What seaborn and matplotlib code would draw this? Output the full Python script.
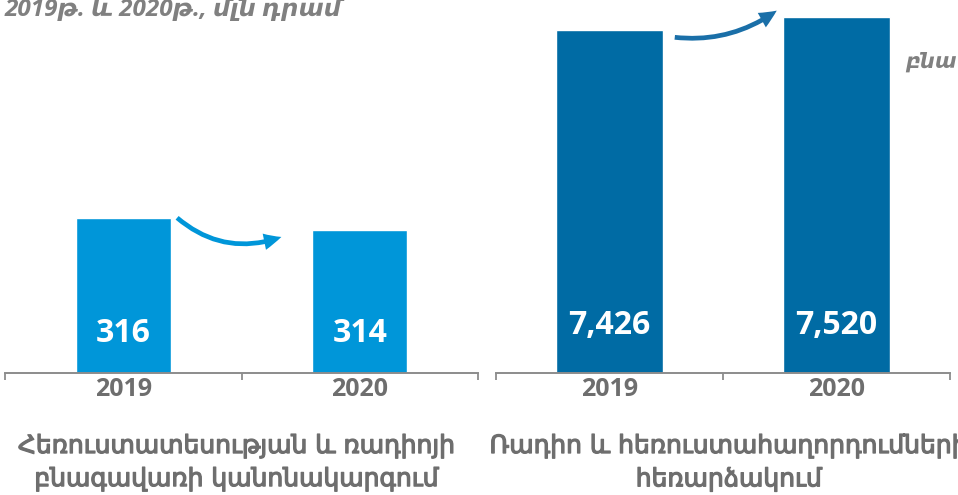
import matplotlib
matplotlib.use("Agg")
import matplotlib.pyplot as plt
import matplotlib.transforms as mtransforms
import matplotlib.patheffects as pe
from matplotlib.patches import FancyArrowPatch
import seaborn as sns
import pandas as pd

# Data
years = ["2019", "2020"]
regulation_values = [316, 314]
broadcast_values = [7426, 7520]
regulation_title = "Հեռուստատեսության և ռադիոյի\nբնագավառի կանոնակարգում"
broadcast_title = "Ռադիո և հեռուստահաղորդումների\nհեռարձակում"
heading = "2019թ. և 2020թ., մլն դրամ"
side_note = "բնա"

LIGHT_BLUE = "#0096D9"
DARK_BLUE = "#006BA4"
TEXT_GRAY = "#6E6E6E"
LINE_GRAY = "#8C8C8C"

sns.set_theme(style="white")
plt.rcParams["font.family"] = ["Open Sans", "DejaVu Sans"]

W, H = 958, 495
fig = plt.figure(figsize=(W / 100, H / 100), dpi=100)


def px_box(x0, x1, ytop, ybot):
    return [x0 / W, 1 - ybot / H, (x1 - x0) / W, (ybot - ytop) / H]


def panel(ax, values, color, width, ylim, label_y, title, title_x):
    df = pd.DataFrame({"year": years, "value": values})
    sns.barplot(data=df, x="year", y="value", color=color, saturation=1,
                width=width, ax=ax, errorbar=None)
    ax.set_xlim(-0.5, 1.5)
    ax.set_ylim(*ylim)
    for side in ["top", "right", "left"]:
        ax.spines[side].set_visible(False)
    ax.spines["bottom"].set_color(LINE_GRAY)
    ax.spines["bottom"].set_linewidth(1.4)
    ax.set_xticks([-0.5, 0.5, 1.5])
    ax.set_xticklabels([])
    ax.tick_params(axis="x", length=5, width=1.3, color=LINE_GRAY,
                   direction="out", bottom=True)
    ax.set_yticks([])
    ax.set_xlabel("")
    ax.set_ylabel("")
    trans = mtransforms.blended_transform_factory(ax.transData, ax.transAxes)
    for i, (yr, v) in enumerate(zip(years, values)):
        ax.text(i, label_y, f"{v:,}", transform=trans, ha="center", va="center",
                color="white", fontsize=23, fontweight="bold")
        ax.text(i, -0.043, yr, transform=trans, ha="center", va="center",
                color=TEXT_GRAY, fontsize=18, fontweight="bold")
    ax.text(title_x, -0.24, title, transform=ax.transAxes, ha="center",
            va="center", color=TEXT_GRAY, fontsize=18, linespacing=1.45,
            family=["DejaVu Sans"],
            path_effects=[pe.withStroke(linewidth=0.9, foreground=TEXT_GRAY)])


ax1 = fig.add_axes(px_box(5, 478, 0, 373))
ax2 = fig.add_axes(px_box(496, 950, 0, 373))
panel(ax1, regulation_values, LIGHT_BLUE, 0.40, (289.5, 353.3), 0.105,
      regulation_title, 0.49)
panel(ax2, broadcast_values, DARK_BLUE, 0.47, (5000, 7638), 0.128,
      broadcast_title, 0.513)


def swoosh(start, end, rad, color):
    arrow = FancyArrowPatch(
        posA=(start[0] / W, 1 - start[1] / H),
        posB=(end[0] / W, 1 - end[1] / H),
        transform=fig.transFigure,
        connectionstyle=f"arc3,rad={rad}",
        arrowstyle="simple,head_length=0.75,head_width=0.7,tail_width=0.2",
        mutation_scale=17, color=color, lw=0)
    fig.patches.append(arrow)


swoosh((175, 216), (284, 236), 0.3, LIGHT_BLUE)
swoosh((672, 37), (779, 9), 0.2, "#1A6FA8")

fig.text(5 / W, 1 - 16 / H, heading, ha="left", va="baseline",
         color="#808080", fontsize=17.5, fontweight="bold", fontstyle="italic")
fig.text(905 / W, 1 - 68 / H, side_note, ha="left", va="baseline",
         color="#808080", fontsize=15, fontweight="bold", fontstyle="italic")

fig.savefig("out.png", dpi=100)
